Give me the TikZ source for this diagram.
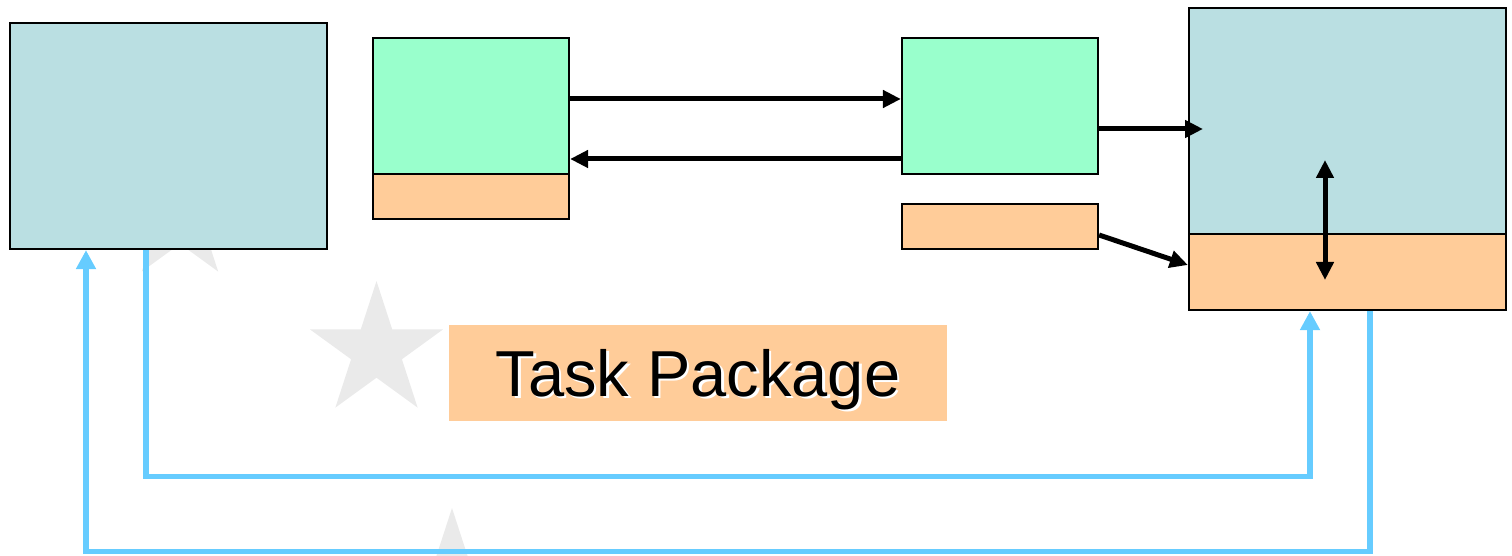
\documentclass[tikz,border=0pt]{standalone}
\usepackage{fontspec}
\setmainfont{Liberation Sans}
\usetikzlibrary{arrows.meta}
\definecolor{boxblue}{RGB}{186,223,226}
\definecolor{boxgreen}{RGB}{153,255,204}
\definecolor{boxorange}{RGB}{255,204,153}
\definecolor{feedblue}{RGB}{102,204,255}
\definecolor{stargray}{RGB}{234,234,234}
\newcommand{\shadowtext}[1]{\rlap{\kern1.2pt\raisebox{-1.2pt}{\color{white}#1}}#1}
\tikzset{
  feed/.style={draw=feedblue,line width=2.6pt,-{Triangle[length=9.5pt,width=9.5pt]}},
  blk/.tip={Triangle[length=9pt,width=8.5pt]}
}
\begin{document}
\begin{tikzpicture}[x=0.5pt,y=-0.5pt]
  \useasboundingbox (0,0) rectangle (1512,556);
  % stars in the background
  \begin{scope}
    \clip (0,0) rectangle (1512,556);
    \foreach \cx/\cy/\r in {180/219/65, 376.5/351/70, 452/578/70} {
      \begin{scope}[shift={(\cx,\cy)}]
        \fill[stargray] (-90:\r) \foreach \k in {0,...,4} {-- ({-54+72*\k}:{0.382*\r}) -- ({-18+72*\k}:\r)} -- cycle;
      \end{scope}
    }
  \end{scope}
  \begin{scope}[every node/.style={rectangle,draw=black,line width=1.1pt,inner sep=0pt}]
    \node[fill=boxblue,minimum width=158.5pt,minimum height=113pt] (src) at (168.5,136) {};
    \node[fill=boxgreen,minimum width=98pt,minimum height=68pt] (bg) at (471,106) {};
    \node[fill=boxorange,minimum width=98pt,minimum height=22.5pt] (bo) at (471,196.5) {};
    \node[fill=boxgreen,minimum width=98pt,minimum height=68pt] (cg) at (1000,106) {};
    \node[fill=boxorange,minimum width=98pt,minimum height=22.5pt] (co) at (1000,226.5) {};
    \node[fill=boxblue,minimum width=158.5pt,minimum height=113pt] (dtop) at (1347.5,121) {};
    \node[fill=boxorange,minimum width=158.5pt,minimum height=38pt] (dbot) at (1347.5,272) {};
  \end{scope}
  \coordinate (dIn) at (1203,129);
  \coordinate (dUp) at (1325,160);
  \coordinate (dDown) at (1325,280);
  \begin{scope}[every edge/.style={draw=black,line width=2.5pt,-blk}]
    \path ([yshift=3.5pt]bg.east) edge ([yshift=3.5pt]cg.west);
    \path ([yshift=-26.5pt]cg.west) edge ([yshift=-26.5pt]bg.east);
    \path ([yshift=-11.5pt]cg.east) edge (dIn);
    \path ([yshift=-4.25pt]co.east) edge ([yshift=3.5pt]dbot.west);
    \path (dUp) edge[blk-blk] (dDown);
  \end{scope}
  \draw[feed] ([xshift=-11.25pt]src.south) -- ++(0,226) -| ([xshift=-18.75pt]dbot.south);
  \draw[feed] ([xshift=11.25pt]dbot.south) -- ++(0,240) -| ([xshift=-41.25pt]src.south);
  \node[fill=boxorange,minimum width=249pt,minimum height=48pt,inner sep=0pt,text depth=0pt,font=\fontsize{32.5}{36}\selectfont] (tp) at (698,373) {\shadowtext{Task Package}};
\end{tikzpicture}
\end{document}
